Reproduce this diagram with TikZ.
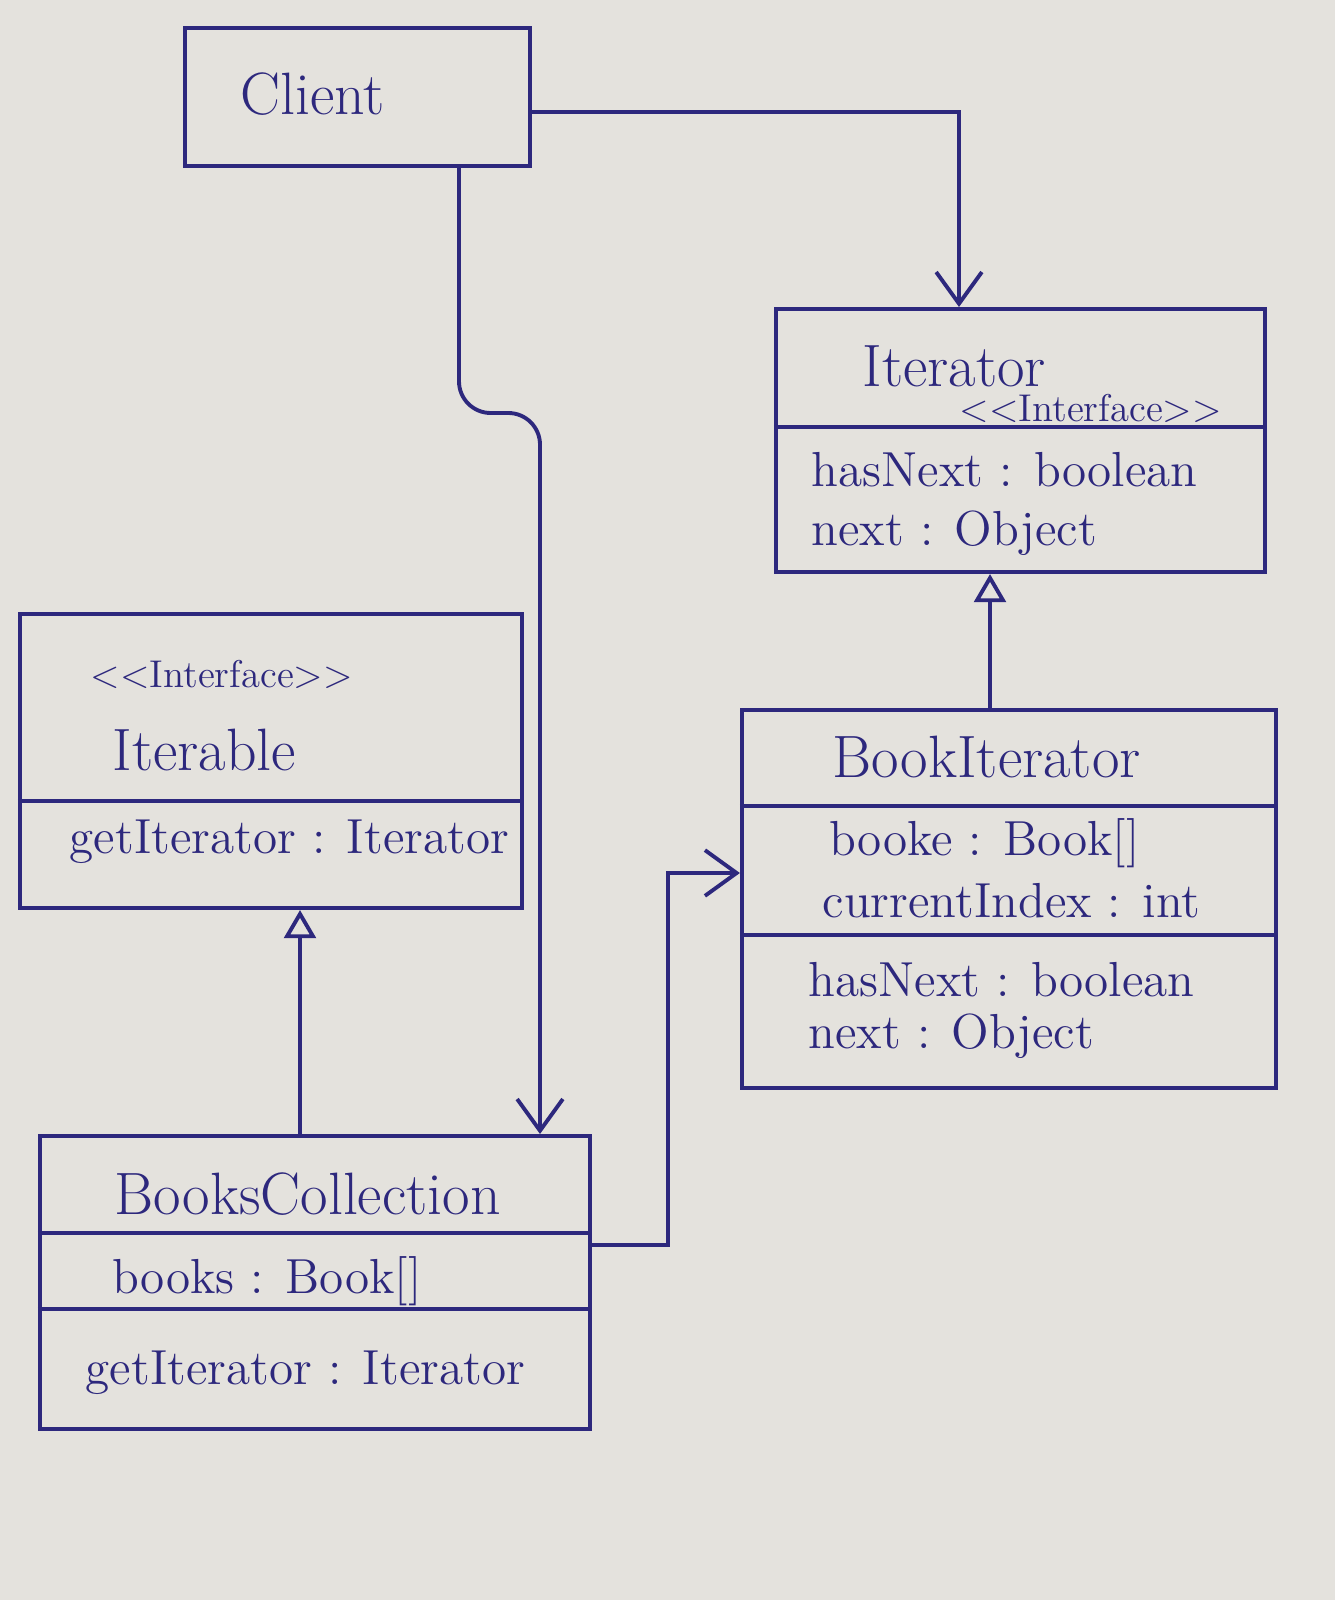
\documentclass[tikz,border=0pt]{standalone}
\usepackage{xcolor}
\usepackage{tikz}
\usetikzlibrary{arrows.meta}
\definecolor{ink}{RGB}{45,40,125}
\definecolor{paper}{RGB}{228,226,221}

\begin{document}
\begin{tikzpicture}[x=0.01cm, y=-0.01cm,
  classbox/.style={draw=ink, line width=1.1pt, inner sep=0pt},
  title/.style={anchor=west, text=ink, font=\fontsize{17}{20}\selectfont, inner sep=0pt},
  stereo/.style={anchor=west, text=ink, font=\fontsize{11}{13}\selectfont, inner sep=0pt},
  attr/.style={anchor=west, text=ink, font=\fontsize{14}{17}\selectfont, inner sep=0pt},
  divider/.style={draw=ink, line width=1.1pt},
  assoc/.style={draw=ink, line width=1.1pt, -{Straight Barb[length=9pt, width=13pt]}},
  realize/.style={draw=ink, line width=1.1pt, -{Triangle[open, length=8pt, width=9pt, fill=paper]}}]

\fill[paper] (0,0) rectangle (1335,1600);
\useasboundingbox (0,0) rectangle (1335,1600);

% class boxes
\node[classbox, minimum width=3.45cm, minimum height=1.38cm] (client) at (357.5,97) {};
\node[classbox, minimum width=4.89cm, minimum height=2.63cm] (iterator) at (1020.5,440.5) {};
\node[classbox, minimum width=5.02cm, minimum height=2.94cm] (iterable) at (271,761) {};
\node[classbox, minimum width=5.34cm, minimum height=3.78cm] (bookit) at (1009,899) {};
\node[classbox, minimum width=5.50cm, minimum height=2.93cm] (coll) at (315,1282.5) {};

% compartments
\draw[divider] (iterator.west |- 0,427) -- (iterator.east |- 0,427);
\draw[divider] (iterable.west |- 0,801) -- (iterable.east |- 0,801);
\draw[divider] (bookit.west |- 0,806) -- (bookit.east |- 0,806);
\draw[divider] (bookit.west |- 0,935) -- (bookit.east |- 0,935);
\draw[divider] (coll.west |- 0,1233) -- (coll.east |- 0,1233);
\draw[divider] (coll.west |- 0,1309) -- (coll.east |- 0,1309);

% texts
\node[title] (clientname) at (240,94) {Client};

\node[title] (iteratorname) at (862,366) {Iterator};
\node[stereo] (iteratorstereo) at (959,408) {<\kern0pt<Interface>\kern0pt>};
\node[attr] (iteratorhas) at (811,470) {hasNext : boolean};
\node[attr] (iteratornext) at (811,533) {next : Object};

\node[stereo] (iterablestereo) at (90,674) {<\kern0pt<Interface>\kern0pt>};
\node[title] (iterablename) at (112,750) {Iterable};
\node[attr] (iterableget) at (69,842) {getIterator : Iterator};

\node[title] (bookitname) at (832,757) {BookIterator};
\node[attr] (bookitbooks) at (829,843) {booke : Book[]};
\node[attr] (bookitindex) at (822,901) {currentIndex : int};
\node[attr] (bookithas) at (808,980) {hasNext : boolean};
\node[attr] (bookitnext) at (808,1036) {next : Object};

\node[title] (collname) at (114,1194) {BooksCollection};
\node[attr] (collbooks) at (112,1281) {books : Book[]};
\node[attr] (collget) at (85,1373) {getIterator : Iterator};

% connectors
\draw[assoc] (client.east |- 0,112) -| (iterator.north -| 959,0);
\draw[assoc, rounded corners=9pt] (client.south -| 459,0) -- (459,413) -- (540,413) -- (coll.north -| 540,0);
\draw[assoc] (coll.east |- 0,1245) -- (668,1245) -- (668,873) -- (bookit.west |- 0,873);
\draw[realize] (bookit.north -| 990,0) -- (iterator.south -| 990,0);
\draw[realize] (coll.north -| 300,0) -- (iterable.south -| 300,0);

\end{tikzpicture}
\end{document}
